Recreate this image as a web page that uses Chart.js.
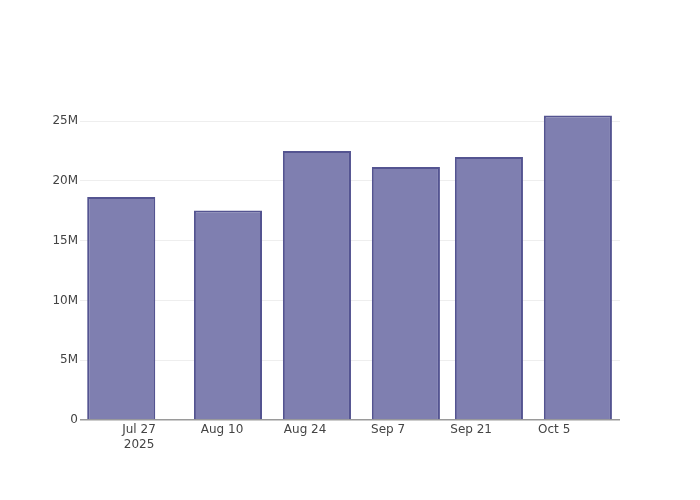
<!DOCTYPE html>
<html>
<head>
<meta charset="utf-8">
<script src="https://cdn.jsdelivr.net/npm/chart.js@4/dist/chart.umd.min.js"></script>
<style>
  html, body { margin: 0; padding: 0; background: #fff; }
  #wrap { width: 700px; height: 500px; }
</style>
</head>
<body>
<div id="wrap"><canvas id="c" width="700" height="500"></canvas></div>
<script>
// Dates of bars (2025) and values
const barDates = ["2025-07-24", "2025-08-11", "2025-08-26", "2025-09-10", "2025-09-24", "2025-10-09"];
const barValues = [18650000, 17520000, 22500000, 21160000, 22000000, 25470000];
const tickDates = ["2025-07-27", "2025-08-10", "2025-08-24", "2025-09-07", "2025-09-21", "2025-10-05"];
const tickLabels = [["Jul 27", "2025"], "Aug 10", "Aug 24", "Sep 7", "Sep 21", "Oct 5"];
const yTicks = [0, 5000000, 10000000, 15000000, 20000000, 25000000];
const yTickLabels = ["0", "5M", "10M", "15M", "20M", "25M"];

const DAY = 86400000;
const base = Date.UTC(2025, 6, 27);
const toDay = s => { const [y, m, d] = s.split("-").map(Number); return (Date.UTC(y, m - 1, d) - base) / DAY; };

const points = barDates.map((d, i) => ({ x: toDay(d), y: barValues[i] }));
const tickPos = tickDates.map(toDay);

const FONT = { family: "'DejaVu Sans', Verdana, sans-serif", size: 12 };

new Chart(document.getElementById("c"), {
  type: "bar",
  data: {
    datasets: [{
      data: points,
      backgroundColor: "rgb(127,127,176)",
      borderColor: "rgb(84,84,145)",
      borderWidth: 2,
      barPercentage: 0.82,
      categoryPercentage: 1.0
    }]
  },
  options: {
    responsive: false,
    animation: false,
    layout: { padding: { left: 0, right: 80, top: 100, bottom: 0 } },
    plugins: { legend: { display: false }, tooltip: { enabled: false } },
    scales: {
      x: {
        type: "linear",
        offset: false,
        min: -9.95,
        max: 81.1,
        grid: { display: false, drawTicks: false },
        border: { display: false },
        afterBuildTicks: s => { s.ticks = tickPos.map(v => ({ value: v })); },
        afterFit: s => { s.height = 80; },
        ticks: {
          autoSkip: false,
          maxRotation: 0,
          padding: 3,
          color: "#444",
          font: FONT,
          callback: (v) => { const i = tickPos.indexOf(v); return i >= 0 ? tickLabels[i] : ""; }
        }
      },
      y: {
        min: 0,
        max: 26760000,
        grid: {
          drawTicks: false,
          color: ctx => (ctx.tick && ctx.tick.value === 0) ? "#9a9a9a" : "#eeeeee",
          lineWidth: ctx => (ctx.tick && ctx.tick.value === 0) ? 1.5 : 1
        },
        border: { display: false },
        afterBuildTicks: s => { s.ticks = yTicks.map(v => ({ value: v })); },
        afterFit: s => { s.width = 80; },
        ticks: {
          padding: 2,
          color: "#444",
          font: FONT,
          callback: (v) => { const i = yTicks.indexOf(v); return i >= 0 ? yTickLabels[i] : ""; }
        }
      }
    }
  }
});
</script>
</body>
</html>
